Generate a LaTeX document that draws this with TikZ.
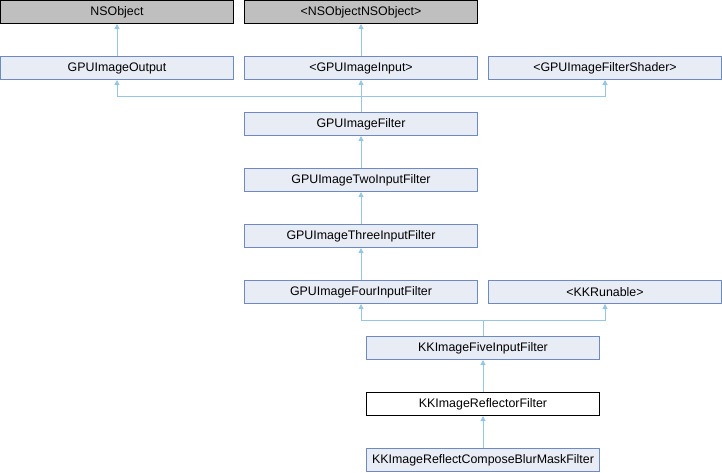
\documentclass[tikz,border=0pt]{standalone}
\usepackage{fontspec}
\setmainfont{Liberation Sans}
\usetikzlibrary{arrows.meta}
\definecolor{grayfill}{RGB}{191,191,191}
\definecolor{bluefill}{RGB}{232,236,245}
\definecolor{blueborder}{RGB}{110,138,196}
\definecolor{edgecol}{RGB}{150,198,228}
\tikzset{
  cls/.style={rectangle, minimum width=233pt, minimum height=23pt, inner sep=0pt, line width=1pt, font=\fontsize{12.4}{14}\selectfont},
  ext/.style={cls, draw=black, fill=grayfill},
  doc/.style={cls, draw=blueborder, fill=bluefill},
  cur/.style={cls, draw=black, fill=white},
  inh/.style={draw=edgecol, line width=1pt, -{Triangle[length=5pt,width=5pt]}},
  ln/.style={draw=edgecol, line width=1pt}
}
\begin{document}
\begin{tikzpicture}[x=1pt,y=-1pt]
\useasboundingbox (0,0) rectangle (722,472);
\node[ext] (nso) at (117,12) {NSObject};
\node[ext] (nsp) at (361,12) {<NSObjectNSObject>};
\node[doc] (out) at (117,68) {GPUImageOutput};
\node[doc] (inp) at (361,68) {<GPUImageInput>};
\node[doc] (sha) at (605,68) {<GPUImageFilterShader>};
\node[doc] (flt) at (361,124) {GPUImageFilter};
\node[doc] (two) at (361,180) {GPUImageTwoInputFilter};
\node[doc] (thr) at (361,236) {GPUImageThreeInputFilter};
\node[doc] (fou) at (361,292) {GPUImageFourInputFilter};
\node[doc] (run) at (605,292) {<KKRunable>};
\node[doc] (fiv) at (483,348) {KKImageFiveInputFilter};
\node[cur] (ref) at (483,404) {KKImageReflectorFilter};
\node[doc] (cmp) at (483,460) {KKImageReflectComposeBlurMaskFilter};
\coordinate (j1) at (361,96.5);
\coordinate (j2) at (483,320.5);
\draw[inh] (out.north) -- (nso.south);
\draw[inh] (inp.north) -- (nsp.south);
\draw[ln] (flt.north) -- (j1);
\draw[inh] (j1) -| (out.south);
\draw[inh] (j1) -- (inp.south);
\draw[inh] (j1) -| (sha.south);
\draw[inh] (two.north) -- (flt.south);
\draw[inh] (thr.north) -- (two.south);
\draw[inh] (fou.north) -- (thr.south);
\draw[ln] (fiv.north) -- (j2);
\draw[inh] (j2) -| (fou.south);
\draw[inh] (j2) -| (run.south);
\draw[inh] (ref.north) -- (fiv.south);
\draw[inh] (cmp.north) -- (ref.south);
\end{tikzpicture}
\end{document}
